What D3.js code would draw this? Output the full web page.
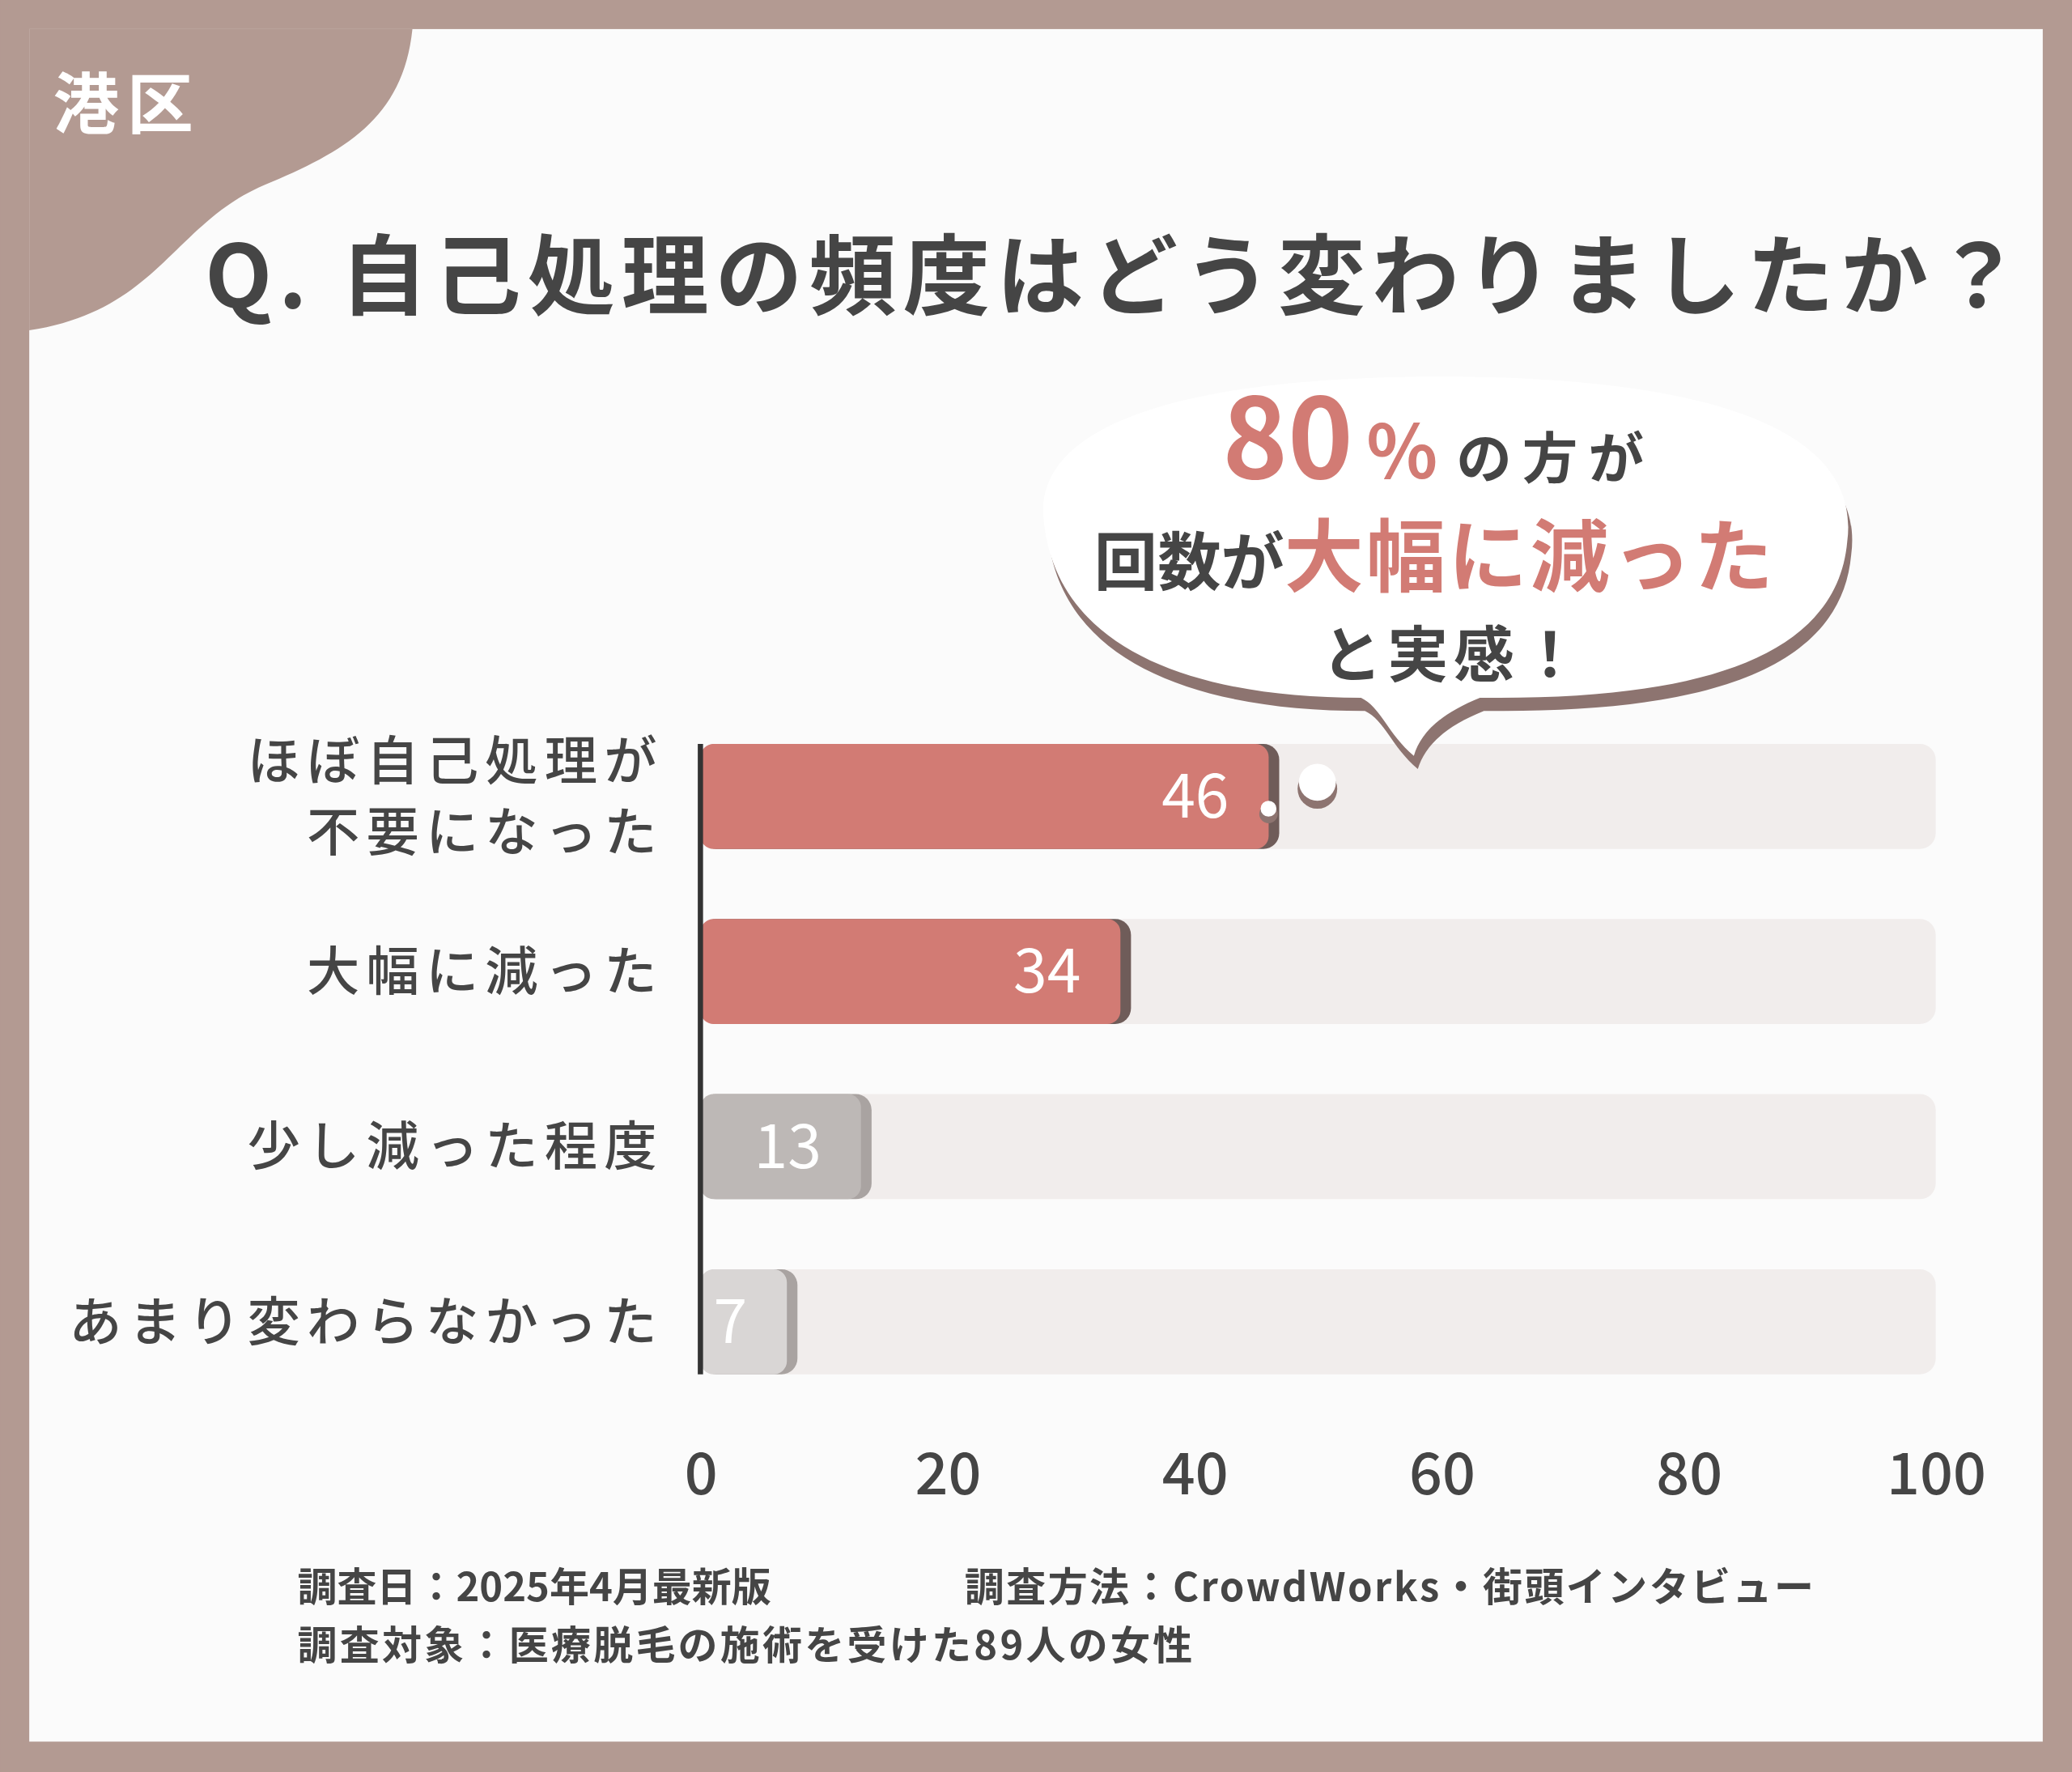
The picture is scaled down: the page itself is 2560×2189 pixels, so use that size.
<!DOCTYPE html>
<html><head><meta charset="utf-8">
<script src="https://cdn.jsdelivr.net/npm/d3@7"></script>
<style>body{margin:0;background:#b39a92}svg{display:block}text{font-family:"Noto Sans CJK JP",sans-serif}</style>
</head><body>
<script>
var categories = [["ほぼ自己処理が","不要になった"], ["大幅に減った"], ["少し減った程度"], ["あまり変わらなかった"]];
var values = [46, 34, 13, 7];
var barColors = ["#d27b74", "#d27b74", "#bdb8b6", "#d9d6d5"];
var ticks = [0, 20, 40, 60, 80, 100];

var ink = "#454545", red = "#d27b74";
var svg = d3.select("body").append("svg")
    .attr("width", 2560).attr("height", 2189)
    .attr("viewBox", "0 0 1568 1341");

svg.append("rect").attr("width", 1568).attr("height", 1341).attr("fill", "#b39a92");
svg.append("rect").attr("x", 22).attr("y", 22).attr("width", 1524).attr("height", 1296).attr("fill", "#fbfbfb");
// corner blob
svg.append("path").attr("fill", "#b39a92")
    .attr("d", "M22,22 L312,22 C305,90 260,115 200,140 C130,170 120,235 22,250 Z");
svg.append("text").attr("x", 40).attr("y", 97).attr("fill", "#fff")
    .attr("font-size", 50).attr("font-weight", 700).attr("letter-spacing", 6).text("港区");
svg.append("text").attr("x", 155).attr("y", 233).attr("fill", ink)
    .attr("font-size", 66).attr("font-weight", 700).attr("letter-spacing", 5)
    .text("Q. 自己処理の頻度はどう変わりましたか？");

var x = d3.scaleLinear().domain([0, 100]).range([530, 1465]);
var y = d3.scaleBand().domain(d3.range(categories.length)).range([563, 1040]).paddingInner(0.4).paddingOuter(0);

// tracks
svg.selectAll(".track").data(values).enter().append("rect")
    .attr("x", x(0)).attr("y", function(d, i) { return y(i); })
    .attr("width", x(100) - x(0)).attr("height", y.bandwidth())
    .attr("rx", 12).attr("fill", "#f1edec");
// shadows
svg.selectAll(".sh").data(values).enter().append("rect")
    .attr("x", x(0)).attr("y", function(d, i) { return y(i); })
    .attr("width", function(d) { return x(d) - x(0) + 8; }).attr("height", y.bandwidth())
    .attr("rx", 12).attr("fill", function(d, i) { return i < 2 ? "#6f5c59" : "#a9a3a1"; });
svg.selectAll(".bar").data(values).enter().append("rect")
    .attr("x", x(0)).attr("y", function(d, i) { return y(i); })
    .attr("width", function(d) { return x(d) - x(0); }).attr("height", y.bandwidth())
    .attr("rx", 10).attr("fill", function(d, i) { return barColors[i]; });
svg.selectAll(".val").data(values).enter().append("text")
    .attr("x", function(d) { return x(d) - 30; })
    .attr("y", function(d, i) { return y(i) + y.bandwidth() / 2 + 16; })
    .attr("text-anchor", "end").attr("fill", "#fff").attr("font-size", 46)
    .text(function(d) { return d; });

svg.append("line").attr("x1", x(0)).attr("x2", x(0)).attr("y1", 563).attr("y2", 1040)
    .attr("stroke", "#333").attr("stroke-width", 4);

categories.forEach(function(lines, i) {
    var t = svg.append("text").attr("text-anchor", "end").attr("fill", ink)
        .attr("font-size", 40).attr("font-weight", 500).attr("letter-spacing", 5);
    var cy = y(i) + y.bandwidth() / 2;
    lines.forEach(function(s, k) {
        t.append("tspan").attr("x", 502)
            .attr("y", cy + 14 + (k - (lines.length - 1) / 2) * 54).text(s);
    });
});

var axis = svg.append("g").attr("transform", "translate(0,1128)")
    .call(d3.axisBottom(x).tickValues(ticks).tickSize(0));
axis.select(".domain").remove();
axis.selectAll("text").attr("font-size", 44).attr("font-weight", 500).attr("fill", ink).attr("dy", 0)
    .style("font-family", "'Noto Sans CJK JP',sans-serif");

// speech bubble
var bub = "M790,395 C780,320 900,285 1090,285 C1280,285 1410,320 1398,410 C1390,500 1280,530 1120,528 C1090,540 1075,555 1070,572 C1050,555 1045,535 1030,528 C900,528 800,490 790,395 Z";
svg.append("path").attr("d", bub).attr("fill", "#8d7470").attr("transform", "translate(3,10)");
svg.append("path").attr("d", bub).attr("fill", "#fff");
svg.append("circle").attr("cx", 997).attr("cy", 597).attr("r", 15).attr("fill", "#8d7470");
svg.append("circle").attr("cx", 997).attr("cy", 592).attr("r", 14).attr("fill", "#fff");
svg.append("circle").attr("cx", 960).attr("cy", 616).attr("r", 7).attr("fill", "#8d7470");
svg.append("circle").attr("cx", 960).attr("cy", 612).attr("r", 6).attr("fill", "#fff");

var l1 = svg.append("text").attr("x", 925).attr("y", 362).attr("font-weight", 700);
l1.append("tspan").attr("fill", red).attr("font-size", 84).text("80");
l1.append("tspan").attr("fill", red).attr("font-size", 56).attr("dx", 10).text("%");
l1.append("tspan").attr("fill", ink).attr("font-size", 42).attr("dx", 14).attr("letter-spacing", 8).text("の方が");
var l2 = svg.append("text").attr("x", 828).attr("y", 443).attr("font-weight", 700);
l2.append("tspan").attr("fill", ink).attr("font-size", 48).text("回数が");
l2.append("tspan").attr("fill", red).attr("font-size", 60).attr("letter-spacing", 2).text("大幅に減った");
svg.append("text").attr("x", 1000).attr("y", 512).attr("fill", ink).attr("font-weight", 700)
    .attr("font-size", 46).attr("letter-spacing", 4).text("と実感！");

svg.append("text").attr("x", 225).attr("y", 1212).attr("fill", ink).attr("font-size", 30).attr("font-weight", 700)
    .text("調査日：2025年4月最新版");
svg.append("text").attr("x", 730).attr("y", 1212).attr("fill", ink).attr("font-size", 30).attr("font-weight", 700)
    .attr("letter-spacing", 1.5).text("調査方法：CrowdWorks・街頭インタビュー");
svg.append("text").attr("x", 225).attr("y", 1256).attr("fill", ink).attr("font-size", 30).attr("font-weight", 700)
    .attr("letter-spacing", 2).text("調査対象：医療脱毛の施術を受けた89人の女性");
</script>
</body></html>
